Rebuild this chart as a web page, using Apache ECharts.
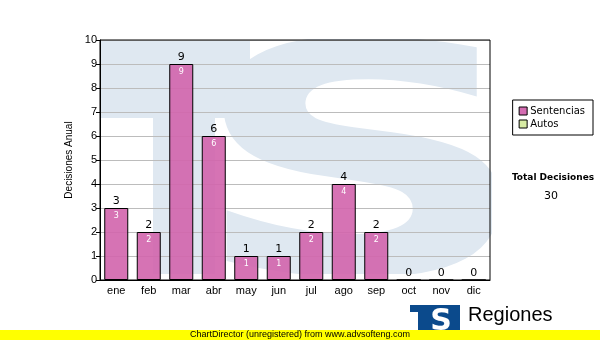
<!DOCTYPE html>
<html><head><meta charset="utf-8">
<script src="https://cdn.jsdelivr.net/npm/echarts@6/dist/echarts.min.js"></script>
<style>html,body{margin:0;padding:0;background:#fff}#c{width:600px;height:340px}</style>
</head><body><div id="c"></div>
<script>
var categories = ['ene','feb','mar','abr','may','jun','jul','ago','sep','oct','nov','dic'];
var sentencias = [3,2,9,6,1,1,2,4,2,0,0,0];
var autos = [0,0,0,0,0,0,0,0,0,0,0,0];
var yTicks = [0,1,2,3,4,5,6,7,8,9,10];
var totals = sentencias.map(function(v,i){return v+autos[i];});
var totalDecisiones = totals.reduce(function(a,b){return a+b;},0);

var chart = echarts.init(document.getElementById('c'), null, {renderer:'canvas'});
var wm = '#dfe8f1';
chart.setOption({
  animation:false,
  backgroundColor:'#fff',
  grid:{left:100,right:110,top:40,bottom:60,show:true,borderColor:'#000',borderWidth:1,backgroundColor:'transparent',z:5},
  legend:{
    right:7, top:100, orient:'vertical', itemWidth:8, itemHeight:8, itemGap:3,
    padding:[6,8,6,6], borderColor:'#000', borderWidth:1, backgroundColor:'#fff',
    textStyle:{fontFamily:'DejaVu Sans', fontSize:10, color:'#000', padding:[0,0,0,-2]},
    data:[
      {name:'Sentencias', icon:'rect', itemStyle:{color:'#d46cb2', borderColor:'#000', borderWidth:1}},
      {name:'Autos', icon:'rect', itemStyle:{color:'#d8eca4', borderColor:'#000', borderWidth:1}}
    ]
  },
  xAxis:{
    type:'category', data:categories,
    axisLine:{lineStyle:{color:'#000',width:1}},
    axisTick:{alignWithLabel:true,length:4,lineStyle:{color:'#000'}},
    axisLabel:{fontFamily:'Liberation Sans',fontSize:11,color:'#000',margin:5},
    splitLine:{show:false}
  },
  yAxis:{
    type:'value', min:yTicks[0], max:yTicks[yTicks.length-1], interval:1,
    name:'Decisiones Anual', nameLocation:'middle', nameGap:26, nameRotate:90,
    nameTextStyle:{fontFamily:'Liberation Sans',fontSize:10,color:'#000'},
    axisLine:{show:true,lineStyle:{color:'#000',width:1}},
    axisTick:{show:true,length:4,lineStyle:{color:'#000'}},
    axisLabel:{fontFamily:'Liberation Sans',fontSize:11,color:'#000',margin:3},
    splitLine:{show:true,lineStyle:{color:'#bcbcbc',width:1}}
  },
  graphic:[
    {type:'group', z:-10, children:[
      {type:'rect', shape:{x:100,y:40,width:390,height:240}, style:{fill:'#fff'}},
      {type:'rect', shape:{x:100,y:40,width:150,height:78}, style:{fill:wm}},
      {type:'rect', shape:{x:153,y:118,width:62,height:156}, style:{fill:wm}},
      {type:'text', x:362, y:190, scaleX:1.5, scaleY:1,
        style:{text:'S', fontFamily:'DejaVu Sans', fontWeight:'bold', fontSize:320, fill:wm, align:'center', verticalAlign:'middle'}},
      {type:'rect', shape:{x:90,y:0,width:420,height:39}, style:{fill:'#fff'}},
      {type:'rect', shape:{x:492,y:0,width:18,height:290}, style:{fill:'#fff'}},
      {type:'rect', shape:{x:101,y:274,width:388,height:5}, style:{fill:'#fff'}}
    ]},
    {type:'text', x:553, y:178, style:{text:'Total Decisiones', fontFamily:'DejaVu Sans', fontWeight:'bold', fontSize:9, fill:'#000', align:'center', verticalAlign:'middle'}},
    {type:'text', x:551, y:196, style:{text:String(totalDecisiones), fontFamily:'DejaVu Sans', fontSize:11, fill:'#000', align:'center', verticalAlign:'middle'}},
    {type:'rect', shape:{x:410,y:305,width:50,height:30}, style:{fill:'#0b4a8c'}},
    {type:'text', x:441, y:322, style:{text:'S', fontFamily:'DejaVu Sans', fontWeight:'bold', fontSize:30, fill:'#fff', align:'center', verticalAlign:'middle'}},
    {type:'rect', shape:{x:410,y:312,width:8,height:20}, style:{fill:'#fff'}},
    {type:'text', x:468, y:315, style:{text:'Regiones', fontFamily:'Liberation Sans', fontSize:20, fill:'#000', verticalAlign:'middle'}},
    {type:'rect', shape:{x:0,y:330,width:600,height:10}, style:{fill:'#ffff00'}},
    {type:'text', x:190, y:335, style:{text:'ChartDirector (unregistered) from www.advsofteng.com', fontFamily:'Liberation Sans', fontSize:9, fill:'#000', verticalAlign:'middle'}}
  ],
  series:[
    {name:'Sentencias', type:'bar', stack:'t', data:sentencias, barWidth:24, z:3,
      itemStyle:{color:'rgba(210,100,172,0.9)', borderColor:'#000', borderWidth:1},
      label:{show:true, position:'insideTop', distance:4, fontFamily:'DejaVu Sans', fontSize:8, color:'#fff',
        formatter:function(p){return p.value>0?String(p.value):'';}}
    },
    {name:'Autos', type:'bar', stack:'t', data:autos, barWidth:24, z:3,
      itemStyle:{color:'#d8eca4', borderColor:'#000', borderWidth:0},
      label:{show:true, position:'top', distance:1, fontFamily:'DejaVu Sans', fontSize:11, color:'#000',
        formatter:function(p){return String(totals[p.dataIndex]);}}
    }
  ]
});
</script></body></html>
